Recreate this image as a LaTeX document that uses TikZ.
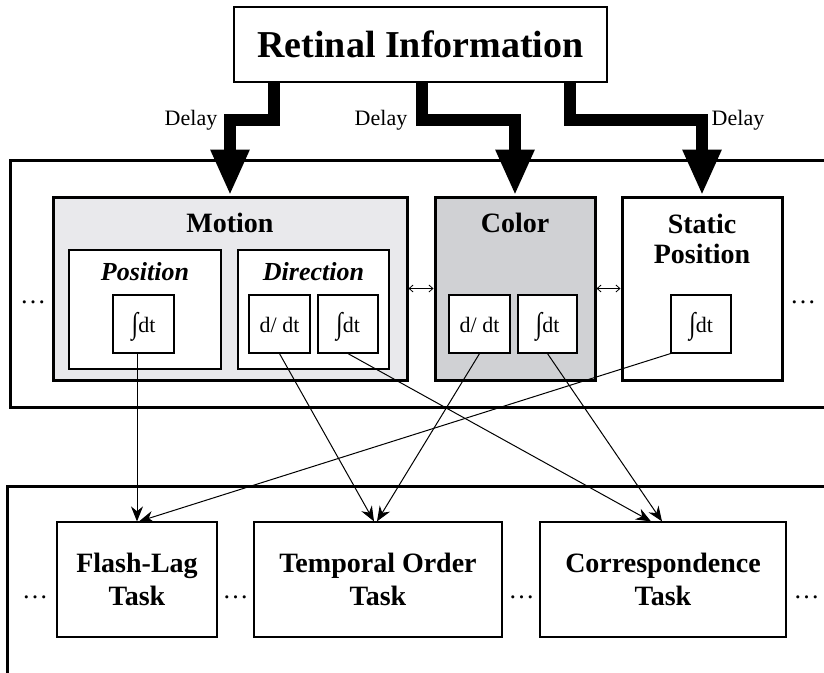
\documentclass[tikz,border=0pt]{standalone}
\usepackage{fontspec}
\usepackage{graphicx}
\setmainfont{Liberation Serif}
\usetikzlibrary{arrows.meta}
\definecolor{motiongray}{RGB}{233,233,236}
\definecolor{colorgray}{RGB}{208,209,212}
\newcommand\intdt{\raisebox{-1pt}{\scalebox{1.1}[1.35]{∫}}dt}
\tikzset{
  frame/.style={line width=3pt},
  modbox/.style={draw,line width=3pt,minimum width=160pt,minimum height=183pt,inner sep=0pt},
  subbox/.style={draw,fill=white,line width=1.2pt,minimum width=152pt,minimum height=119pt,inner sep=0pt},
  opbox/.style={draw,fill=white,line width=1.2pt,minimum width=61pt,minimum height=58pt,inner sep=0pt,
    text height=16pt,text depth=0pt,font=\fontsize{22}{24}\selectfont},
  taskbox/.style={draw,line width=1.2pt,minimum height=115pt,inner sep=0pt,align=center,
    font=\fontsize{28}{33}\selectfont\bfseries},
  title/.style={anchor=base,inner sep=0pt,font=\fontsize{28}{30}\selectfont\bfseries},
  subtitle/.style={anchor=base,inner sep=0pt,font=\fontsize{26}{28}\selectfont\bfseries\itshape},
  delaytext/.style={anchor=base,inner sep=0pt,font=\fontsize{22}{24}\selectfont},
  dots/.style={anchor=base,inner sep=0pt,font=\fontsize{26}{28}\selectfont},
  delayarrow/.style={line width=12pt,-{Triangle[length=46pt,width=36pt]}},
  taskarrow/.style={line width=1pt,-{Stealth[length=15pt,width=12pt]}},
  linkarrow/.style={line width=0.8pt,{Straight Barb[length=4pt,width=7pt]}-{Straight Barb[length=4pt,width=7pt]}}
}

\begin{document}
\begin{tikzpicture}[x=1pt,y=-1pt]
\useasboundingbox (0,0) rectangle (824,672);

% frames of the two levels
\draw[frame] (830,160) -| (10,407) -- (830,407);
\draw[frame] (830,486) -| (7,680);

\node[draw,line width=2.5pt,minimum width=373pt,minimum height=75pt,inner sep=0pt,
  font=\fontsize{38}{40}\selectfont\bfseries] (retinal) at (420.5,44.5) {Retinal Information};

% modules
\node[modbox,fill=motiongray,minimum width=354pt] (motion) at (230,288.5) {};
\node[modbox,fill=colorgray] (color) at (515,288.5) {};
\node[modbox,fill=white] (static) at (702,288.5) {};
\node[title] (motiont) at (230,232) {Motion};
\node[title] (colort) at (515,232) {Color};
\node[title,anchor=center,align=center] (statict) at (702,238.5) {Static\\Position};

\node[subbox] (posbox) at (145,309.5) {};
\node[subbox,minimum width=151pt] (dirbox) at (313.5,309.5) {};
\node[subtitle] (post) at (145,280) {Position};
\node[subtitle] (dirt) at (313.5,280) {Direction};

\node[opbox] (posint) at (143.5,324) {\intdt};
\node[opbox] (dirdiff) at (279.5,324) {d/ dt};
\node[opbox,minimum width=60pt] (dirint) at (348,324) {\intdt};
\node[opbox] (coldiff) at (479.5,324) {d/ dt};
\node[opbox,minimum width=59pt] (colint) at (547.5,324) {\intdt};
\node[opbox,minimum width=60pt] (statint) at (701,324) {\intdt};

\node[dots] (dl1) at (33,303) {…};
\node[dots] (dr1) at (803,303) {…};

\draw[linkarrow] (motion.east) -- (color.west);
\draw[linkarrow] (color.east) -- (static.west);

% delays
\draw[delayarrow] ([xshift=41pt]retinal.south west) -- ++(0,37) -| (motion.north);
\draw[delayarrow] ([xshift=189pt]retinal.south west) -- ++(0,37) -| (color.north);
\draw[delayarrow] ([xshift=337pt]retinal.south west) -- ++(0,37) -| (static.north);
\node[delaytext] (d1) at (191,125) {Delay};
\node[delaytext] (d2) at (381,125) {Delay};
\node[delaytext] (d3) at (738,125) {Delay};

% tasks
\node[taskbox,minimum width=160pt] (flash) at (137,579.5) {Flash-Lag\\Task};
\node[taskbox,minimum width=248pt] (temporal) at (378,579.5) {Temporal Order\\Task};
\node[taskbox,minimum width=246pt] (corr) at (663,579.5) {Correspondence\\Task};
\node[dots] (db1) at (35,598) {…};
\node[dots] (db2) at (235.5,598) {…};
\node[dots] (db3) at (521.5,598) {…};
\node[dots] (db4) at (806.5,598) {…};

\draw[taskarrow] (posint.south -| flash.north) -- (flash.north);
\draw[taskarrow] (statint.south west) -- ([xshift=2pt]flash.north);
\draw[taskarrow] (dirdiff.south) -- ([xshift=-4pt]temporal.north);
\draw[taskarrow] (coldiff.south) -- ([xshift=-1pt]temporal.north);
\draw[taskarrow] (dirint.south) -- ([xshift=-12pt]corr.north);
\draw[taskarrow] (colint.south) -- ([xshift=-1pt]corr.north);
\end{tikzpicture}
\end{document}
